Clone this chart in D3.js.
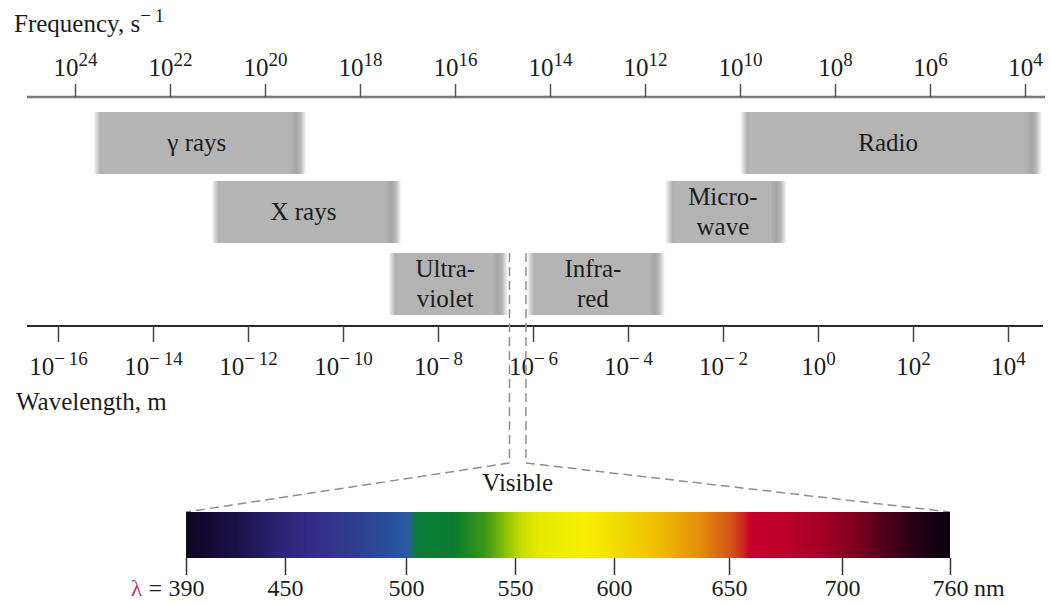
<!DOCTYPE html>
<html><head><meta charset="utf-8">
<script src="https://cdn.jsdelivr.net/npm/d3@7"></script>
<style>
body{margin:0;background:#fff}
svg{display:block}
text{font-family:"Liberation Serif","Times New Roman",serif;fill:#1c1c1c}
</style>
</head><body>
<svg id="chart" width="1050" height="604"></svg>
<script>
// ---------- DATA ----------
const freqExponents = [24, 22, 20, 18, 16, 14, 12, 10, 8, 6, 4];            // top axis, Hz (s^-1)
const wavelengthExponents = [-16, -14, -12, -10, -8, -6, -4, -2, 0, 2, 4];  // bottom axis, m
const bandNames = [["γ rays"], ["X rays"], ["Ultra-", "violet"], ["Infra-", "red"], ["Micro-", "wave"], ["Radio"]];
const bandMinWavelength = [5.5e-16, 1.7e-13, 9e-10, 7.4e-7, 6e-4, 2.3e-2];   // m
const bandMaxWavelength = [1.7e-11, 1.7e-9, 3e-7, 6e-4, 0.22, 5.2e4];       // m
const bandRow = [0, 1, 2, 2, 1, 0];
const visibleEdges = [3.2e-7, 7.1e-7];                                     // m
const visibleTicks = [390, 450, 500, 550, 600, 650, 700, 760];             // nm
const spectrumNm = [390, 420, 445, 460, 478, 499, 501, 504, 522, 536, 545, 553, 562, 585, 600, 620, 638, 650, 656, 659, 672, 690, 705, 722, 742, 760];
const spectrumColors = ["#0d0522", "#1a1048", "#2c2270", "#342a88", "#2f3c8e", "#2857a2", "#2a5aa0", "#0b7a3e", "#0b7c2e", "#3a9618", "#86bf02", "#c6dc00", "#e6e900", "#f6f000", "#f2de00", "#efbc00", "#e48a0c", "#d65a16", "#cc2a20", "#c6002c", "#bf0029", "#a60026", "#86001f", "#52001a", "#220012", "#0a0010"];

// ---------- LAYOUT ----------
const svg = d3.select("#chart");
const topAxisY = 97, bottomAxisY = 326;
const rowY = [112, 181, 253], rowH = 62;
const dashBottomY = 463;
const specTop = 512, specH = 46;

const xFreq = d3.scaleLog().domain([1e24, 1e4]).range([75, 1025]);
const xWl = d3.scaleLog().domain([1e-16, 1e4]).range([58, 1008]);
const xVis = d3.scaleLinear().domain(visibleTicks).range([186, 285, 406, 515, 614, 729, 842, 950]);

const defs = svg.append("defs");
const gL = defs.append("linearGradient").attr("id", "edgeL");
[[0, "#ffffff"], [0.3, "#dadada"], [0.7, "#b0b0b0"], [1, "#b4b4b4"]].forEach(s => gL.append("stop").attr("offset", s[0]).attr("stop-color", s[1]));
const gR = defs.append("linearGradient").attr("id", "edgeR");
[[0, "#b4b4b4"], [0.4, "#a6a6a6"], [0.65, "#b8b8b8"], [1, "#ffffff"]].forEach(s => gR.append("stop").attr("offset", s[0]).attr("stop-color", s[1]));
const gS = defs.append("linearGradient").attr("id", "spectrum");
spectrumNm.forEach((nm, i) => gS.append("stop")
  .attr("offset", (xVis(nm) - xVis(visibleTicks[0])) / (xVis(visibleTicks[visibleTicks.length - 1]) - xVis(visibleTicks[0])))
  .attr("stop-color", spectrumColors[i]));

const fs = 24, tickFs = 25, bandFs = 25, supFs = 19;
function powerLabel(sel, exp) {
  sel.text(null);
  sel.append("tspan").text("10");
  sel.append("tspan").attr("font-size", supFs).attr("dy", -10)
    .text(exp < 0 ? "\u2212\u2009" + (-exp) : String(exp));
}

// ---------- TITLES ----------
const ft = svg.append("text").attr("x", 14).attr("y", 32).attr("font-size", 25);
ft.append("tspan").text("Frequency, s");
ft.append("tspan").attr("font-size", supFs).attr("dy", -10).text("\u2212\u20091");
svg.append("text").attr("x", 16).attr("y", 410).attr("font-size", 25).text("Wavelength, m");

// ---------- TOP AXIS ----------
svg.append("line").attr("x1", 27).attr("x2", 1045).attr("y1", topAxisY).attr("y2", topAxisY)
  .attr("stroke", "#7a7a7a").attr("stroke-width", 2.5);
const topAxis = svg.append("g").attr("transform", `translate(0,${topAxisY})`)
  .call(d3.axisTop(xFreq).tickValues(freqExponents.map(e => Math.pow(10, e))).tickSizeInner(13).tickSizeOuter(0));
topAxis.select(".domain").remove();
topAxis.selectAll(".tick line").attr("stroke", "#555").attr("stroke-width", 1.5);
topAxis.selectAll(".tick text").attr("font-size", tickFs).attr("font-family", null).attr("fill", "#1c1c1c")
  .attr("y", -21).attr("dy", 0)
  .each(function(d, i) { powerLabel(d3.select(this), freqExponents[i]); });

// ---------- BOTTOM AXIS ----------
svg.append("line").attr("x1", 27).attr("x2", 1043).attr("y1", bottomAxisY).attr("y2", bottomAxisY)
  .attr("stroke", "#2a2a2a").attr("stroke-width", 1.8);
const botAxis = svg.append("g").attr("transform", `translate(0,${bottomAxisY})`)
  .call(d3.axisBottom(xWl).tickValues(wavelengthExponents.map(e => Math.pow(10, e))).tickSizeInner(16).tickSizeOuter(0));
botAxis.select(".domain").remove();
botAxis.selectAll(".tick line").attr("stroke", "#444").attr("stroke-width", 1.5);
botAxis.selectAll(".tick text").attr("font-size", tickFs).attr("font-family", null).attr("fill", "#1c1c1c")
  .attr("y", 49).attr("dy", 0)
  .each(function(d, i) { powerLabel(d3.select(this), wavelengthExponents[i]); });

// ---------- BANDS ----------
const bands = bandNames.map((n, i) => ({ lines: n, x0: xWl(bandMinWavelength[i]), x1: xWl(bandMaxWavelength[i]), y: rowY[bandRow[i]] }));
const bg = svg.append("g").selectAll("g").data(bands).join("g");
const eL = 10, eR = 16;
bg.append("rect").attr("x", d => d.x0 + eL).attr("y", d => d.y).attr("width", d => d.x1 - d.x0 - eL - eR).attr("height", rowH).attr("fill", "#b4b4b4");
bg.append("rect").attr("x", d => d.x0).attr("y", d => d.y).attr("width", eL + 0.5).attr("height", rowH).attr("fill", "url(#edgeL)");
bg.append("rect").attr("x", d => d.x1 - eR - 0.5).attr("y", d => d.y).attr("width", eR + 0.5).attr("height", rowH).attr("fill", "url(#edgeR)");
bg.each(function(d) {
  const g = d3.select(this);
  const cx = (d.x0 + d.x1) / 2 - 3, cy = d.y + rowH / 2;
  d.lines.forEach((t, j) => {
    const off = d.lines.length === 1 ? 0 : (j === 0 ? -15 : 15);
    g.append("text").attr("x", cx).attr("y", cy + off).attr("dy", "0.33em")
      .attr("text-anchor", "middle").attr("font-size", bandFs).text(t);
  });
});

// ---------- VISIBLE CALLOUT ----------
const vx0 = xWl(visibleEdges[0]), vx1 = xWl(visibleEdges[1]);
const sx0 = xVis(visibleTicks[0]), sx1 = xVis(visibleTicks[visibleTicks.length - 1]);
const dash = svg.append("g").attr("fill", "none").attr("stroke", "#8f8f8f").attr("stroke-width", 1.5).attr("stroke-dasharray", "9,5");
dash.append("path").attr("d", d3.line()([[vx0, rowY[2]], [vx0, dashBottomY], [sx0, specTop]]));
dash.append("path").attr("d", d3.line()([[vx1, rowY[2]], [vx1, dashBottomY], [sx1, specTop]]));
svg.append("text").attr("x", (vx0 + vx1) / 2).attr("y", 491).attr("text-anchor", "middle").attr("font-size", bandFs).text("Visible");

// ---------- SPECTRUM ----------
svg.append("rect").attr("x", sx0).attr("y", specTop).attr("width", sx1 - sx0).attr("height", specH).attr("fill", "url(#spectrum)");
const visAxis = svg.append("g").attr("transform", `translate(0,${specTop + specH})`)
  .call(d3.axisBottom(xVis).tickValues(visibleTicks).tickSizeInner(17).tickSizeOuter(0).tickFormat(d3.format("d")));
visAxis.select(".domain").remove();
visAxis.selectAll(".tick line").attr("stroke", "#333").attr("stroke-width", 1.5);
visAxis.selectAll(".tick text").attr("font-size", fs).attr("font-family", null).attr("fill", "#1c1c1c").attr("y", 38).attr("dy", 0);
const lam = svg.append("text").attr("x", sx0 - 24).attr("y", specTop + specH + 38).attr("text-anchor", "end").attr("font-size", fs);
lam.append("tspan").attr("fill", "#c2307c").text("λ");
lam.append("tspan").text(" =");
svg.append("text").attr("x", sx1 + 24).attr("y", specTop + specH + 38).attr("font-size", fs).text("nm");
</script>
</body></html>
